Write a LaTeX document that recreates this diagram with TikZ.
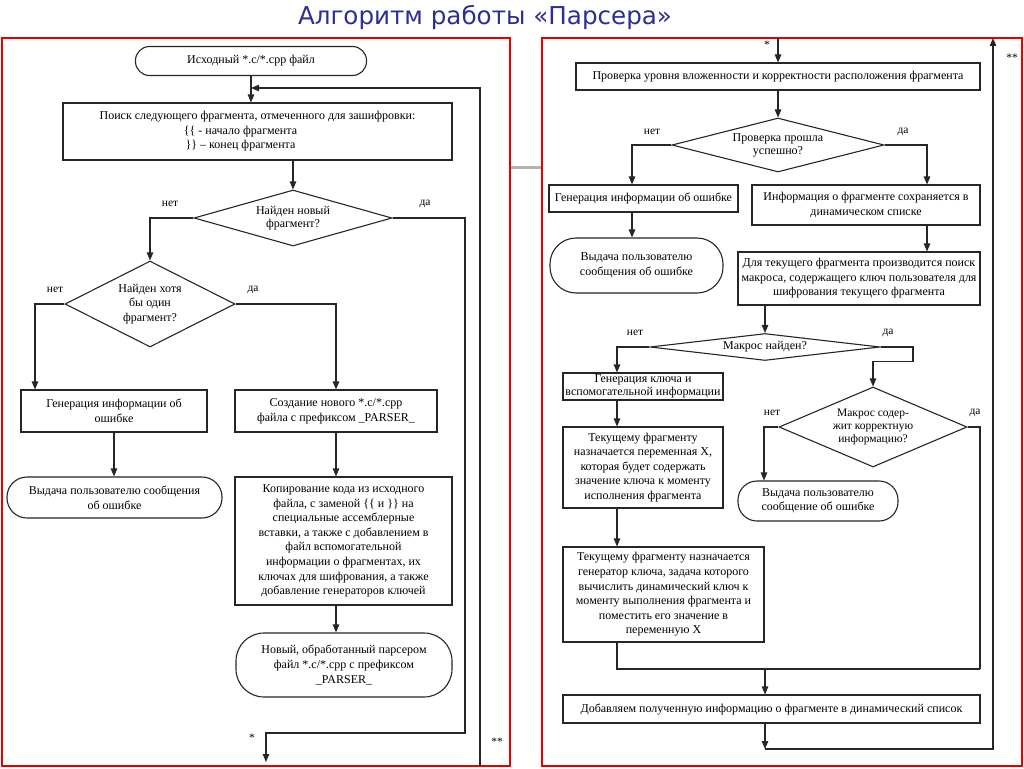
\documentclass[tikz,border=0pt]{standalone}
\usepackage{fontspec}
\setmainfont{Liberation Serif}
\newfontfamily\titlefont{DejaVu Sans}
\usetikzlibrary{arrows.meta,shapes.geometric}
\definecolor{titleblue}{RGB}{45,45,150}
\definecolor{framered}{RGB}{230,0,0}
\begin{document}
\begin{tikzpicture}[x=1pt,y=-1pt,
  every node/.style={font=\fontsize{12}{14.6}\selectfont},
  blk/.style={draw=black!85, line width=1.1pt, align=center, inner sep=0pt, fill=white},
  term/.style={blk, rounded corners=#1},
  dec/.style={blk, diamond, inner sep=0pt, font=\fontsize{12}{13.2}\selectfont},
  lbl/.style={font=\fontsize{11.5}{13}\selectfont, inner sep=0pt},
  flow/.style={draw=black!85, line width=1.1pt},
  arr/.style={flow, -{Triangle[length=8pt,width=6.5pt]}},
  frame/.style={draw=framered, line width=1.8pt}
]
\useasboundingbox (0,0) rectangle (1024,768);
\fill[white] (0,0) rectangle (1024,768);

\node[font=\titlefont\fontsize{24.6}{28}\selectfont, text=titleblue] (title) at (485,18) {Алгоритм работы «Парсера»};

\draw[frame] (2,38) rectangle (510,766);
\draw[frame] (542,38) rectangle (1022,766);
\draw[black!30, line width=3pt] (511,167) -- (541,167);

% ---------- left panel ----------
\coordinate (cA) at (35,0);
\coordinate (cB) at (465,0);
\coordinate (cC) at (480,0);
\coordinate (cD) at (266,0);
\coordinate (yJ) at (0,733);
\coordinate (yS) at (0,762);
\coordinate (yL) at (0,88);
\coordinate (yF) at (0,766);

\node[term=14pt, minimum width=231, minimum height=29] (L1) at (251,61) {Исходный *.c/*.cpp файл};
\node[blk, minimum width=389, minimum height=57] (L2) at (257.5,131.5)
  {Поиск следующего фрагмента, отмеченного для зашифровки:\\
   \hspace*{-34pt}\{\{ - начало фрагмента\\
   \hspace*{-34pt}\}\} – конец фрагмента};
\node[dec, minimum width=198, minimum height=56, aspect=3.54] (D1) at (293,218) {Найден новый\\фрагмент?};
\node[lbl] (n1) at (170,204) {нет};
\node[lbl] (y1) at (425,204) {да};
\node[dec, minimum width=170, minimum height=86, aspect=2, font=\fontsize{12}{14.5}\selectfont] (D2) at (150,304) {Найден хотя\\бы один\\фрагмент?};
\node[lbl] (n2) at (55,290) {нет};
\node[lbl] (y2) at (253,290) {да};
\node[blk, minimum width=186, minimum height=42] (L3) at (114,411) {Генерация информации об\\ошибке};
\node[blk, minimum width=202, minimum height=42] (L4) at (336,411) {Создание нового *.c/*.cpp\\файла с префиксом \_PARSER\_};
\node[term=20pt, minimum width=215, minimum height=41] (L5) at (114.5,497.5) {Выдача пользователю сообщения\\об ошибке};
\node[blk, minimum width=217, minimum height=128] (L6) at (343.5,541)
  {Копирование кода из исходного\\файла, с заменой \{\{ и \}\} на\\специальные ассемблерные\\вставки, а также с добавлением в\\файл вспомогательной\\информации о фрагментах, их\\ключах для шифрования, а также\\добавление генераторов ключей};
\node[term=28pt, minimum width=216, minimum height=64] (L7) at (344,665) {Новый, обработанный парсером\\файл *.c/*.cpp с префиксом\\\_PARSER\_};
\node[lbl] (s1) at (252,738) {*};
\node[lbl] (s2) at (497,742) {**};

\draw[arr] (L1.south) -- (L1.south |- L2.north);
\draw[arr] (cC |- yF) -- (cC |- yL) -- (L1.south |- yL);
\draw[arr] (D1.north |- L2.south) -- (D1.north);
\draw[arr] (D1.west) -| (D2.north);
\draw[arr] (D1.east) -| (cB |- yJ) -| (cD |- yS);
\draw[arr] (D2.west) -| (cA |- L3.north);
\draw[arr] (D2.east) -| (L4.north);
\draw[arr] (L3.south) -- (L3.south |- L5.north);
\draw[arr] (L4.south) -- (L4.south |- L6.north);
\draw[arr] (L4.south |- L6.south) -- (L4.south |- L7.north);

% ---------- right panel ----------
\coordinate (ca) at (632,0);
\coordinate (cb) at (927,0);
\coordinate (cc) at (765,0);
\coordinate (cd) at (617,0);
\coordinate (ce) at (913,0);
\coordinate (cg) at (764,0);
\coordinate (ch) at (980,0);
\coordinate (ci) at (993,0);
\coordinate (rtop) at (778,38);
\coordinate (yj) at (0,669);
\coordinate (yk) at (0,749);

\node[lbl] (s3) at (767,45) {*};
\node[lbl] (s4) at (1012,58) {**};
\node[blk, minimum width=404, minimum height=27] (R1) at (778,76.5) {Проверка уровня вложенности и корректности расположения фрагмента};
\node[dec, minimum width=212, minimum height=54, aspect=3.93] (D3) at (778,145) {Проверка прошла\\успешно?};
\node[lbl] (n3) at (652,132) {нет};
\node[lbl] (y3) at (903,132) {да};
\node[blk, minimum width=189, minimum height=27] (R2) at (643.5,198.5) {Генерация информации об ошибке};
\node[blk, minimum width=228, minimum height=40] (R3) at (866,205) {Информация о фрагменте сохраняется в\\динамическом списке};
\node[term=26pt, minimum width=173, minimum height=55] (T2) at (636.5,265.5) {Выдача пользователю\\сообщения об ошибке};
\node[blk, minimum width=242, minimum height=53] (R4) at (859,278.5) {Для текущего фрагмента производится поиск\\макроса, содержащего ключ пользователя для\\шифрования текущего фрагмента};
\node[dec, minimum width=230, minimum height=27, aspect=8.5] (D4) at (765,347) {Макрос найден?};
\node[lbl] (n4) at (635,333) {нет};
\node[lbl] (y4) at (888,333) {да};
\node[blk, minimum width=160, minimum height=27, font=\fontsize{12}{13}\selectfont] (R5) at (643,386.5) {Генерация ключа и\\вспомогательной информации};
\node[dec, minimum width=188, minimum height=80, aspect=2.35, font=\fontsize{11.5}{13}\selectfont] (D5) at (873,427) {Макрос содер-\\жит корректную\\информацию?};
\node[lbl] (n5) at (772,413) {нет};
\node[lbl] (y5) at (975,413) {да};
\node[blk, minimum width=160, minimum height=81] (R6) at (643,467.5) {Текущему фрагменту\\назначается переменная X,\\которая будет содержать\\значение ключа к моменту\\исполнения фрагмента};
\node[term=19pt, minimum width=160, minimum height=40] (T3) at (818,501) {Выдача пользователю\\сообщение об ошибке};
\node[blk, minimum width=201, minimum height=95] (R7) at (663.5,594.5) {Текущему фрагменту назначается\\генератор ключа, задача которого\\вычислить динамический ключ к\\моменту выполнения фрагмента и\\поместить его значение в\\переменную X};
\node[blk, minimum width=417, minimum height=28] (R8) at (771.5,709) {Добавляем полученную информацию о фрагменте в динамический список};

\draw[arr] (rtop) -- (R1.north);
\draw[arr] (R1.south) -- (D3.north);
\draw[arr] (D3.west) -| (ca |- R2.north);
\draw[arr] (D3.east) -| (cb |- R3.north);
\draw[arr] (ca |- R2.south) -- (ca |- T2.north);
\draw[arr] (cb |- R3.south) -- (cb |- R4.north);
\draw[arr] (cc |- R4.south) -- (D4.north);
\draw[arr] (D4.west) -| (cd |- R5.north);
\draw[arr] (D4.east) -| (ce |- D4.south) -| (D5.north);
\draw[arr] (cd |- R5.south) -- (cd |- R6.north);
\draw[arr] (cd |- R6.south) -- (cd |- R7.north);
\draw[arr] (D5.west) -| (cg |- T3.north);
\draw[flow] (D5.east) -| (ch |- yj);
\draw[flow] (cd |- R7.south) |- (ch |- yj);
\draw[arr] (cc |- yj) -- (cc |- R8.north);
\draw[arr] (cc |- R8.south) -- (cc |- yk);
\draw[arr] (cc |- yk) -| (ci |- rtop);
\end{tikzpicture}
\end{document}
